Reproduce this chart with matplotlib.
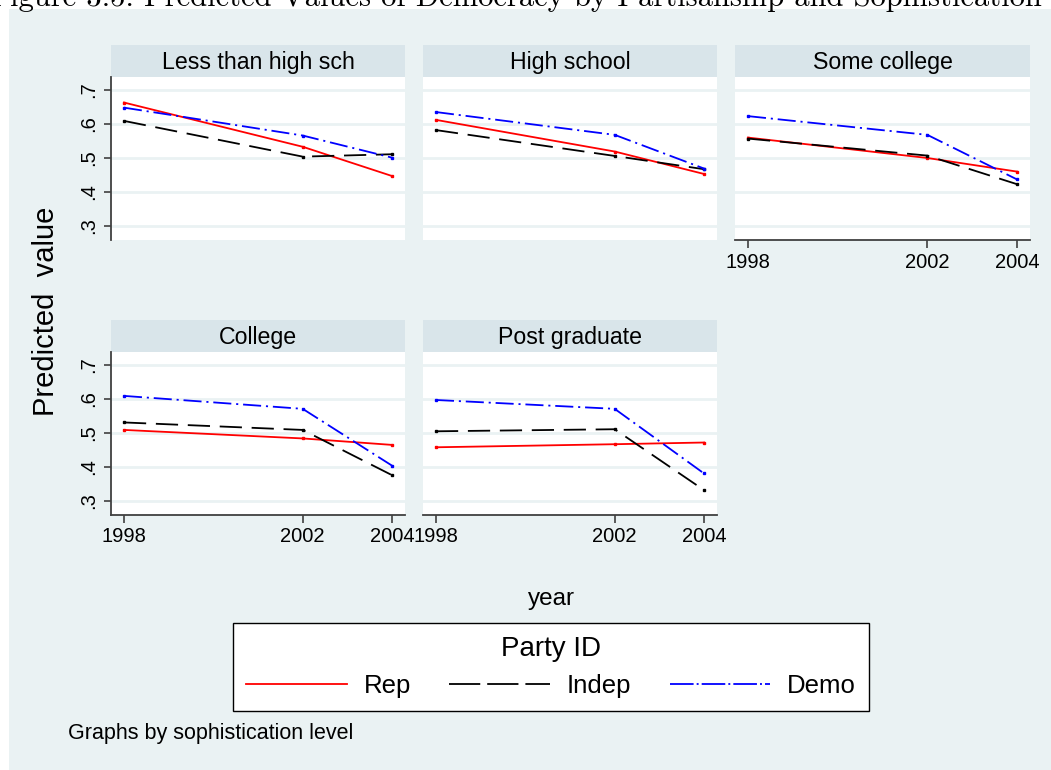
import matplotlib
matplotlib.use("Agg")
import matplotlib.pyplot as plt
from matplotlib.lines import Line2D
from matplotlib.patches import Rectangle

plt.rcParams['font.family'] = ['Liberation Sans', 'DejaVu Sans']
plt.rcParams['lines.scale_dashes'] = False

# predicted values by sophistication level, party and year
years = [1998, 2002, 2004]
levels = ["Less than high sch", "High school", "Some college", "College", "Post graduate"]
rep = [[0.663, 0.533, 0.447], [0.612, 0.519, 0.453], [0.560, 0.500, 0.460],
       [0.509, 0.484, 0.465], [0.458, 0.467, 0.472]]
indep = [[0.609, 0.504, 0.511], [0.582, 0.506, 0.467], [0.557, 0.507, 0.423],
         [0.531, 0.509, 0.376], [0.505, 0.511, 0.332]]
demo = [[0.648, 0.566, 0.501], [0.635, 0.568, 0.469], [0.623, 0.568, 0.437],
        [0.609, 0.571, 0.404], [0.597, 0.571, 0.381]]
yticks = [0.3, 0.4, 0.5, 0.6, 0.7]
ytick_labels = [".3", ".4", ".5", ".6", ".7"]
party_labels = ["Rep", "Indep", "Demo"]

W, H = 1051, 770
BG = "#EAF2F3"
STRIP = "#D9E5EA"
SPINE = "#404040"

fig = plt.figure(figsize=(W / 100, H / 100), dpi=100)
fig.patch.set_facecolor("white")
fig.patches.append(Rectangle((9 / W, 0), 1, 1 - 9 / H, transform=fig.transFigure,
                             facecolor=BG, edgecolor="none", zorder=-10))

# page caption, cut off at the top as in the scanned page
fig.text(1042 / W, 1 - 6 / H,
         "Figure 3.5: Predicted Values of Democracy by Partisanship and Sophistication",
         family="cmr10", fontsize=22, ha="right", va="baseline")


def px_axes(x0, y0, x1, y1):
    return fig.add_axes([x0 / W, 1 - y1 / H, (x1 - x0) / W, (y1 - y0) / H])


cols = [(111, 405), (423, 717), (735, 1030)]
rows = [(45, 77, 240), (320, 352, 515)]
# (row, col, show y axis, show x axis)
panels = [(0, 0, True, False), (0, 1, False, False), (0, 2, False, True),
          (1, 0, True, True), (1, 1, False, True)]

styles = [
    dict(color="#FF0000", linestyle="-"),
    dict(color="black", linestyle=(0, (16, 7))),
    dict(color="#0000FF", linestyle=(0, (13, 3.5, 1.5, 3.5))),
]

for i, (r, c, show_y, show_x) in enumerate(panels):
    x0, x1 = cols[c]
    st, top, bot = rows[r]
    sax = px_axes(x0, st, x1, top)
    sax.set_facecolor(STRIP)
    sax.set_xticks([])
    sax.set_yticks([])
    for s in sax.spines.values():
        s.set_visible(False)
    sax.text(0.5, 0.45, levels[i], ha="center", va="center", fontsize=16.7,
             transform=sax.transAxes)

    ax = px_axes(x0, top, x1, bot)
    ax.set_facecolor("white")
    for series, stl in zip([rep, indep, demo], styles):
        ax.plot(years, series[i], lw=1.3, marker="s", ms=2, **stl)
    ax.set_xlim(1997.71, 2004.29)
    ax.set_ylim(0.259, 0.738)
    ax.set_yticks(yticks)
    ax.set_yticklabels(ytick_labels, rotation=90, va="center")
    ax.set_xticks(years)
    ax.set_xticklabels([str(y) for y in years])
    ax.yaxis.grid(True, color=BG, lw=2)
    ax.set_axisbelow(True)
    for s in ["top", "right"]:
        ax.spines[s].set_visible(False)
    ax.spines["left"].set_visible(show_y)
    ax.spines["bottom"].set_visible(show_x)
    ax.spines["left"].set_color(SPINE)
    ax.spines["bottom"].set_color(SPINE)
    ax.spines["left"].set_linewidth(1.3)
    ax.spines["bottom"].set_linewidth(1.3)
    ax.tick_params(axis="y", left=show_y, labelleft=show_y, length=5, width=1.2,
                   color=SPINE, labelsize=14.5, pad=4)
    ax.tick_params(axis="x", bottom=show_x, labelbottom=show_x, length=6, width=1.2,
                   color=SPINE, labelsize=14.5, pad=3)

fig.text(46 / W, 1 - 311 / H, "Predicted  value", rotation=90, ha="center",
         va="center", fontsize=21)
fig.text(551 / W, 1 - 599 / H, "year", ha="center", va="center", fontsize=17.5)
fig.text(68 / W, 1 - 733 / H, "Graphs by sophistication level", ha="left",
         va="center", fontsize=15.5)

handles = [
    Line2D([], [], color="#FF0000", lw=1.3),
    Line2D([], [], color="black", lw=1.3, linestyle=(0, (22.5, 5))),
    Line2D([], [], color="#0000FF", lw=1.3, linestyle=(0, (17, 2.2, 1.4, 2.2))),
]
leg = fig.legend(handles, party_labels, loc="center",
                 bbox_to_anchor=(551 / W, 1 - 667 / H), ncol=3, title="Party ID",
                 fontsize=18.5, title_fontsize=20, frameon=True, fancybox=False,
                 edgecolor="black", framealpha=1, handlelength=3.9,
                 handletextpad=0.66, columnspacing=1.5, borderpad=0.5)
leg.get_frame().set_linewidth(1.0)

fig.savefig("out.png", dpi=100, facecolor="white")
